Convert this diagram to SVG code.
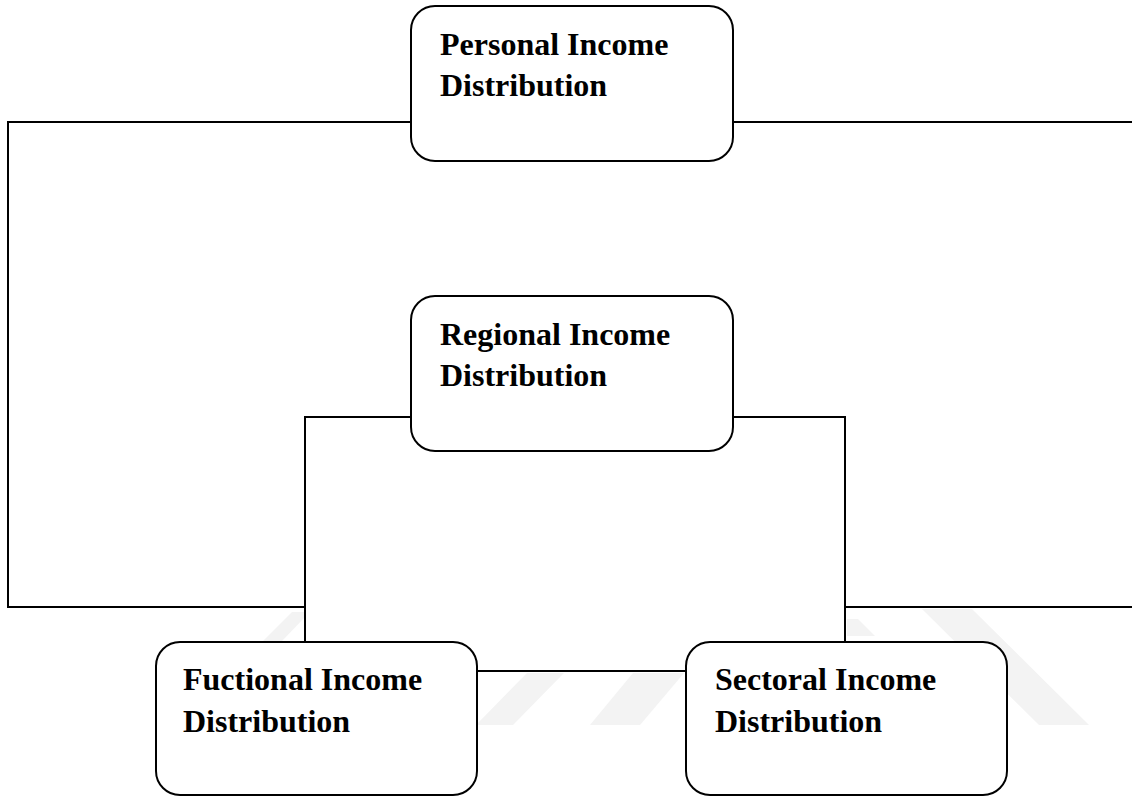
<svg xmlns="http://www.w3.org/2000/svg" width="1132" height="796" viewBox="0 0 1132 796">
<style>
.wm{fill:#f3f3f3;stroke:none}
.box{fill:#ffffff;stroke:#000000;stroke-width:2}
.conn{fill:none;stroke:#000000;stroke-width:2}
.lbl{font-family:"Liberation Serif","Times New Roman",serif;font-weight:bold;font-size:32px;fill:#000000}
</style>
<rect x="0" y="0" width="1132" height="796" fill="#ffffff"/>
<g id="watermark">
<polygon class="wm" points="292,612 306,612 306,616 281,642 262,642"/>
<polygon class="wm" points="527,673 564,673 513,725 476,725"/>
<polygon class="wm" points="633,673 684,673 640,725 590,725"/>
<polygon class="wm" points="922,609 972,609 1089,725 1039,725"/>
<polygon class="wm" points="847,619 858,619 875,636 847,636"/>
</g>
<g id="connectors">
<path class="conn" d="M411,122 H8 V607 H305"/>
<path class="conn" d="M733,122 H1132"/>
<path class="conn" d="M845,607 H1132"/>
<path class="conn" d="M411,417 H305 V642"/>
<path class="conn" d="M733,417 H845 V642"/>
<path class="conn" d="M477,671 H686"/>
</g>
<g id="personal">
<rect class="box" x="411" y="6" width="322" height="155" rx="24" ry="24"/>
<text class="lbl" x="440" y="55">Personal Income</text>
<text class="lbl" x="440" y="96">Distribution</text>
</g>
<g id="regional">
<rect class="box" x="411" y="296" width="322" height="155" rx="24" ry="24"/>
<text class="lbl" x="440" y="345">Regional Income</text>
<text class="lbl" x="440" y="386">Distribution</text>
</g>
<g id="fuctional">
<rect class="box" x="156" y="642" width="321" height="153" rx="24" ry="24"/>
<text class="lbl" x="183" y="690">Fuctional Income</text>
<text class="lbl" x="183" y="732">Distribution</text>
</g>
<g id="sectoral">
<rect class="box" x="686" y="642" width="321" height="153" rx="24" ry="24"/>
<text class="lbl" x="715" y="690">Sectoral Income</text>
<text class="lbl" x="715" y="732">Distribution</text>
</g>
</svg>
